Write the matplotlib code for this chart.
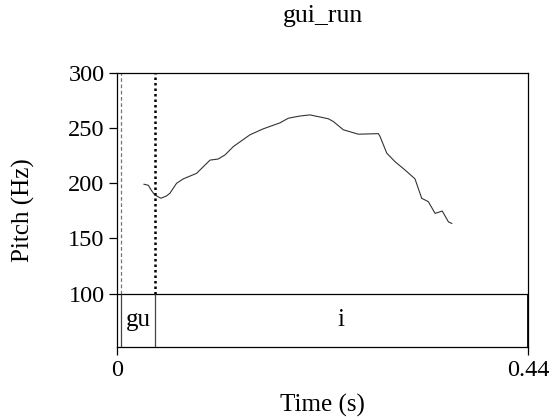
import matplotlib.pyplot as plt

plt.rcParams["font.family"] = ["Liberation Serif", "DejaVu Serif"]

# Pitch track (s, Hz)
time_s = [0.0289, 0.0335, 0.0370, 0.0405, 0.0470, 0.0530, 0.0567, 0.0638,
          0.0710, 0.0852, 0.0996, 0.1084, 0.1156, 0.1246, 0.1424, 0.1567,
          0.1745, 0.1834, 0.1960, 0.2066, 0.2262, 0.2316, 0.2423, 0.2584,
          0.2798, 0.2816, 0.2888, 0.2976, 0.3084, 0.3190, 0.3262, 0.3333,
          0.3405, 0.3440, 0.3482, 0.3548, 0.3584]
pitch_hz = [199.1, 198.2, 193.3, 189.4, 186.4, 188.5, 191.0, 200.0,
            204.0, 209.0, 221.0, 222.0, 225.7, 233.3, 244.0, 249.4,
            254.8, 259.0, 261.0, 262.0, 258.5, 256.0, 248.5, 244.5,
            245.0, 242.4, 227.3, 219.6, 212.0, 204.0, 186.4, 183.3,
            172.7, 173.6, 174.8, 165.0, 163.6]

# Segment tier
seg_labels = ["gu", "i"]
seg_bounds = [0.0043, 0.0405, 0.44]

t_max = 0.44
f_lo, f_hi = 100, 300
tier_lo = 51.5

fig = plt.figure(figsize=(5.53, 4.19), dpi=100)
ax = fig.add_axes([117 / 553, 72 / 419, 411 / 553, 274 / 419])

ax.plot(time_s, pitch_hz, color="#333333", lw=0.8)

# boundary markers in the pitch area
ax.vlines(seg_bounds[0], f_lo, f_hi, color="#777777", lw=0.9, ls=(0, (3, 2)))
ax.vlines(seg_bounds[1], f_lo, f_hi, color="black", lw=1.8, ls=(0, (1, 1.2)))

# tier box
ax.axhline(f_lo, color="black", lw=0.9)
for b in seg_bounds[:-1]:
    ax.vlines(b, tier_lo, f_lo, color="#444444", lw=0.9)
ax.vlines(seg_bounds[-1], tier_lo, f_lo, color="black", lw=2)
for lab, a, b in zip(seg_labels, seg_bounds[:-1], seg_bounds[1:]):
    ax.text((a + b) / 2, (tier_lo + f_lo) / 2, lab, ha="center", va="center",
            fontsize=18)

ax.set_xlim(0, t_max)
ax.set_ylim(tier_lo, f_hi)
ax.set_xticks([0, t_max], ["0", "0.44"])
ax.set_yticks(range(100, 301, 50))
ax.tick_params(labelsize=17.5, length=6, width=0.9, pad=3, direction="out")
for s in ax.spines.values():
    s.set_linewidth(0.9)
ax.spines["bottom"].set_bounds(0, t_max)

ax.set_title("gui_run", fontsize=18.5, pad=37)
ax.set_xlabel("Time (s)", fontsize=18, labelpad=10)
ax.set_ylabel("Pitch (Hz)", fontsize=18, labelpad=24)

fig.savefig("out.png", dpi=100)
